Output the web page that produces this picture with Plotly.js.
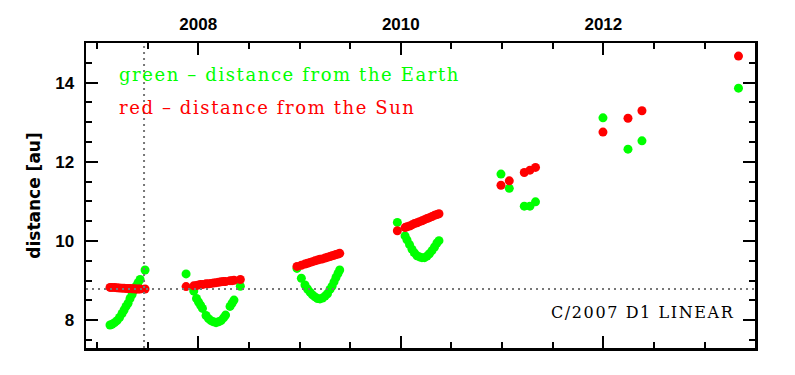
<!DOCTYPE html>
<html>
<head>
<meta charset="utf-8">
<script src="https://cdn.plot.ly/plotly-3.0.1.min.js"></script>
<style>
  html, body { margin: 0; padding: 0; background: #fff; }
  #chart { width: 795px; height: 375px; }
  .annotation-text { letter-spacing: 1.6px; }
</style>
</head>
<body>
<div id="chart"></div>
<script>
const obsYear = [
  2007.129, 2007.149, 2007.174, 2007.198, 2007.223, 2007.248, 2007.268, 2007.287,
  2007.307, 2007.327, 2007.347, 2007.366, 2007.386, 2007.406, 2007.426, 2007.475,
  2007.880, 2007.956, 2007.983, 2008.003, 2008.023, 2008.042, 2008.077, 2008.102,
  2008.126, 2008.151, 2008.176, 2008.200, 2008.225, 2008.250, 2008.270, 2008.314,
  2008.334, 2008.353, 2008.416,
  2008.975, 2009.018, 2009.054, 2009.079, 2009.104, 2009.128, 2009.153, 2009.178,
  2009.202, 2009.227, 2009.252, 2009.276, 2009.301, 2009.321, 2009.341, 2009.360,
  2009.380, 2009.397,
  2009.966, 2010.042, 2010.061, 2010.086, 2010.111, 2010.135, 2010.160, 2010.185,
  2010.209, 2010.234, 2010.259, 2010.283, 2010.308, 2010.333, 2010.357, 2010.377,
  2010.989, 2011.071, 2011.219, 2011.275, 2011.330,
  2011.996, 2012.243, 2012.381,
  2013.334
];
const earthDist = [
  7.88, 7.90, 7.94, 7.99, 8.07, 8.17, 8.26, 8.35,
  8.43, 8.55, 8.65, 8.76, 8.86, 8.95, 9.03, 9.27,
  9.17, 8.74, 8.55, 8.46, 8.38, 8.30, 8.12, 8.04,
  7.99, 7.96, 7.94, 7.96, 7.99, 8.06, 8.13, 8.35,
  8.43, 8.51, 8.86,
  9.31, 9.06, 8.89, 8.79, 8.71, 8.64, 8.59, 8.55,
  8.54, 8.56, 8.61, 8.67, 8.78, 8.86, 8.97, 9.08,
  9.18, 9.27,
  10.47, 10.13, 10.03, 9.91, 9.79, 9.70, 9.63, 9.60,
  9.58, 9.58, 9.62, 9.68, 9.76, 9.85, 9.95, 10.01,
  11.69, 11.33, 10.88, 10.88, 10.99,
  13.11, 12.32, 12.53,
  13.86
];
const sunDist = [
  8.83, 8.83, 8.825, 8.82, 8.815, 8.81, 8.81, 8.805,
  8.80, 8.80, 8.795, 8.795, 8.79, 8.79, 8.79, 8.79,
  8.85, 8.87, 8.88, 8.89, 8.90, 8.90, 8.92, 8.92,
  8.93, 8.94, 8.95, 8.96, 8.97, 8.98, 8.98, 9.00,
  9.00, 9.01, 9.03,
  9.36, 9.39, 9.42, 9.44, 9.46, 9.48, 9.50, 9.52,
  9.54, 9.55, 9.57, 9.59, 9.61, 9.63, 9.64, 9.66,
  9.67, 9.69,
  10.26, 10.34, 10.36, 10.38, 10.41, 10.44, 10.46, 10.49,
  10.51, 10.54, 10.57, 10.59, 10.62, 10.65, 10.67, 10.69,
  11.41, 11.52, 11.73, 11.79, 11.86,
  12.75, 13.10, 13.29,
  14.67
];
// Perihelion reference lines
const perihelionYear = 2007.465;
const perihelionDist = 8.788;

const legendGreen = "green – distance from the Earth";
const legendRed = "red – distance from the Sun";
const objectName = "C/2007 D1 LINEAR";

const traces = [
  { x: obsYear, y: earthDist, type: 'scatter', mode: 'markers', name: 'Earth',
    marker: { color: '#00ff00', size: 9 }, hoverinfo: 'skip' },
  { x: obsYear, y: sunDist, type: 'scatter', mode: 'markers', name: 'Sun',
    marker: { color: '#ff0000', size: 9 }, hoverinfo: 'skip' }
];

const tickFont = { family: 'Liberation Sans', size: 17, color: '#000', weight: 'bold' };
const textFont = 'DejaVu Serif';

const layout = {
  width: 795, height: 375,
  margin: { l: 86, r: 40, t: 43, b: 27 },
  paper_bgcolor: '#fff', plot_bgcolor: '#fff',
  showlegend: false,
  xaxis: {
    range: [2006.892, 2013.497], side: 'top',
    showline: true, linecolor: '#000', linewidth: 2.5, mirror: 'allticks',
    ticks: 'inside', ticklen: 12, tickwidth: 2, tickcolor: '#000',
    tick0: 2008, dtick: 2, showgrid: false, zeroline: false,
    tickfont: tickFont, ticklabelstandoff: 4,
    minor: { dtick: 0.5, tick0: 2007, ticks: 'inside', ticklen: 6, tickwidth: 2, tickcolor: '#000', showgrid: false }
  },
  yaxis: {
    range: [7.3, 15.0],
    showline: true, linecolor: '#000', linewidth: 2.5, mirror: 'allticks',
    ticks: 'inside', ticklen: 12, tickwidth: 2, tickcolor: '#000',
    tick0: 0, dtick: 2, showgrid: false, zeroline: false,
    tickfont: tickFont, ticklabelstandoff: 6,
    minor: { dtick: 0.5, tick0: 0, ticks: 'inside', ticklen: 6, tickwidth: 2, tickcolor: '#000', showgrid: false },
    title: { text: 'distance [au]', standoff: 10,
             font: { family: 'DejaVu Sans', size: 17, color: '#000', weight: 'bold' } }
  },
  shapes: [
    { type: 'line', xref: 'x', yref: 'paper', x0: perihelionYear, x1: perihelionYear, y0: 0, y1: 1,
      line: { color: '#777777', width: 2, dash: '2px,4px' }, layer: 'above' },
    { type: 'line', xref: 'paper', yref: 'y', x0: 0, x1: 1, y0: perihelionDist, y1: perihelionDist,
      line: { color: '#777777', width: 2, dash: '2px,4px' }, layer: 'above' }
  ],
  annotations: [
    { text: legendGreen, xref: 'paper', yref: 'paper', x: 0.046, y: 0.898,
      xanchor: 'left', yanchor: 'middle', showarrow: false,
      font: { family: textFont, size: 18, color: '#00ff00' } },
    { text: legendRed, xref: 'paper', yref: 'paper', x: 0.046, y: 0.789,
      xanchor: 'left', yanchor: 'middle', showarrow: false,
      font: { family: textFont, size: 18, color: '#ff0000' } },
    { text: objectName, xref: 'paper', yref: 'paper', x: 0.971, y: 0.115,
      xanchor: 'right', yanchor: 'middle', showarrow: false,
      font: { family: textFont, size: 16, color: '#000' } }
  ]
};

Plotly.newPlot('chart', traces, layout, { displayModeBar: false, staticPlot: true });
</script>
</body>
</html>
